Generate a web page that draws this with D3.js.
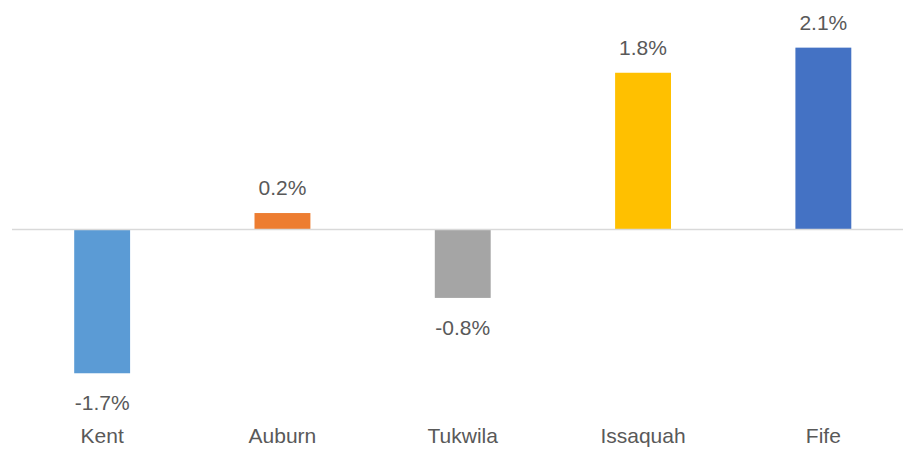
<!DOCTYPE html>
<html>
<head>
<meta charset="utf-8">
<script src="https://cdn.jsdelivr.net/npm/d3@7"></script>
<style>
  html, body { margin: 0; padding: 0; background: #fff; }
  svg { display: block; }
  text { font-family: "Liberation Sans", Arial, sans-serif; fill: #595959; }
</style>
</head>
<body>
<svg width="903" height="449"></svg>
<script>
const cities = ["Kent", "Auburn", "Tukwila", "Issaquah", "Fife"];
const changes = [-1.66, 0.19, -0.79, 1.81, 2.10];
const barColors = ["#5B9BD5", "#ED7D31", "#A5A5A5", "#FFC000", "#4472C4"];

const data = cities.map((c, i) => ({name: c, value: changes[i], color: barColors[i]}));

const svg = d3.select("svg");
const width = +svg.attr("width");

const x = d3.scaleBand()
  .domain(cities)
  .range([12, 913.5])
  .paddingInner(0.69)
  .paddingOuter(0.345);

const y = d3.scaleLinear()
  .domain([-2.5, 2.5])
  .range([446, 13]);

// plain hyphen for negatives, like the original
const locale = d3.formatLocale({decimal: ".", thousands: ",", grouping: [3], currency: ["$", ""], minus: "-"});
const fmt = locale.format(".1f");

const g = svg.append("g");

g.selectAll("rect.bar")
  .data(data)
  .join("rect")
    .attr("class", "bar")
    .attr("x", d => x(d.name))
    .attr("width", x.bandwidth())
    .attr("y", d => y(Math.max(0, d.value)))
    .attr("height", d => Math.abs(y(d.value) - y(0)))
    .attr("fill", d => d.color);

// zero line
g.append("line")
  .attr("x1", 12)
  .attr("x2", width)
  .attr("y1", y(0))
  .attr("y2", y(0))
  .attr("stroke", "#D9D9D9")
  .attr("stroke-width", 1.5);

// data labels
g.selectAll("text.val")
  .data(data)
  .join("text")
    .attr("class", "val")
    .attr("x", d => x(d.name) + x.bandwidth() / 2)
    .attr("y", d => d.value >= 0 ? y(d.value) - 18 : y(d.value) + 37)
    .attr("text-anchor", "middle")
    .style("font-size", "21px")
    .text(d => fmt(d.value) + "%");

// category labels
g.selectAll("text.cat")
  .data(data)
  .join("text")
    .attr("class", "cat")
    .attr("x", d => x(d.name) + x.bandwidth() / 2)
    .attr("y", 443)
    .attr("text-anchor", "middle")
    .style("font-size", "21px")
    .text(d => d.name);
</script>
</body>
</html>
